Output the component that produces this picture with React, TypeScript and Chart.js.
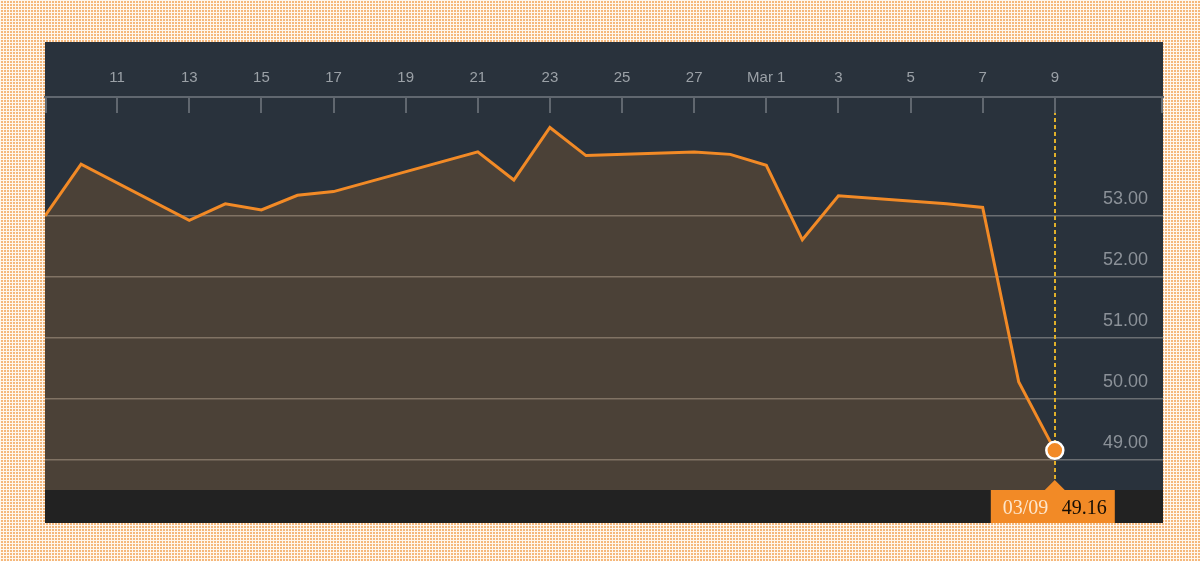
import React, { useEffect, useRef } from "react";
import { Chart, registerables } from "chart.js";

Chart.register(...registerables);

// ---- Data ----
const dates = [
  "2017-02-09", "2017-02-10", "2017-02-13", "2017-02-14", "2017-02-15",
  "2017-02-16", "2017-02-17", "2017-02-21", "2017-02-22", "2017-02-23",
  "2017-02-24", "2017-02-27", "2017-02-28", "2017-03-01", "2017-03-02",
  "2017-03-03", "2017-03-06", "2017-03-07", "2017-03-08", "2017-03-09",
];
const prices = [
  53.0, 53.85, 52.93, 53.2, 53.1,
  53.34, 53.4, 54.05, 53.59, 54.45,
  53.99, 54.05, 54.01, 53.83, 52.61,
  53.33, 53.2, 53.14, 50.28, 49.16,
];
const tickDates = [
  "2017-02-11", "2017-02-13", "2017-02-15", "2017-02-17", "2017-02-19",
  "2017-02-21", "2017-02-23", "2017-02-25", "2017-02-27", "2017-03-01",
  "2017-03-03", "2017-03-05", "2017-03-07", "2017-03-09",
];
const tickLabels = ["11", "13", "15", "17", "19", "21", "23", "25", "27", "Mar 1", "3", "5", "7", "9"];
const yTickValues = [49, 50, 51, 52, 53];
const highlightLabel = "03/09";

const START = Date.UTC(2017, 1, 9);
const dayOf = (s: string) => {
  const [y, m, d] = s.split("-").map(Number);
  return Math.round((Date.UTC(y, m - 1, d) - START) / 86400000);
};

const ORANGE = "#f28a26";

export default function App() {
  const ref = useRef<HTMLCanvasElement>(null);

  useEffect(() => {
    const canvas = ref.current!;
    const points = dates.map((d, i) => ({ x: dayOf(d), y: prices[i] }));
    const tickDays = tickDates.map(dayOf);
    const lastX = points[points.length - 1].x;
    const lastY = points[points.length - 1].y;

    const panelPlugin = {
      id: "panel",
      beforeDraw(chart: any) {
        const { ctx, chartArea } = chart;
        ctx.save();
        ctx.fillStyle = "#29323c";
        ctx.fillRect(45, 42, 1163 - 45, chartArea.bottom - 42);
        ctx.fillStyle = "#222222";
        ctx.fillRect(45, chartArea.bottom, 1163 - 45, 523 - chartArea.bottom);
        ctx.restore();
      },
      beforeDatasetsDraw(chart: any) {
        const { ctx, chartArea, scales } = chart;
        const x = Math.round(scales.x.getPixelForValue(lastX));
        ctx.save();
        ctx.strokeStyle = "#e0b02a";
        ctx.lineWidth = 2;
        ctx.setLineDash([4, 3]);
        ctx.beginPath();
        ctx.moveTo(x, chartArea.top);
        ctx.lineTo(x, chartArea.bottom);
        ctx.stroke();
        ctx.restore();
      },
      afterDraw(chart: any) {
        const { ctx, chartArea, scales } = chart;
        // tick marks below top axis line
        ctx.save();
        ctx.strokeStyle = "#60676f";
        ctx.lineWidth = 2;
        const xs = [chartArea.left + 1, ...tickDays.map((d) => scales.x.getPixelForValue(d)), chartArea.right - 1];
        xs.forEach((px) => {
          ctx.beginPath();
          ctx.moveTo(Math.round(px), chartArea.top);
          ctx.lineTo(Math.round(px), chartArea.top + 16);
          ctx.stroke();
        });
        // highlight label box
        const cx = scales.x.getPixelForValue(lastX);
        const top = chartArea.bottom;
        const left = cx - 64;
        const w = 124;
        ctx.fillStyle = ORANGE;
        ctx.beginPath();
        ctx.moveTo(left, top);
        ctx.lineTo(cx - 10, top);
        ctx.lineTo(cx, top - 10);
        ctx.lineTo(cx + 10, top);
        ctx.lineTo(left + w, top);
        ctx.lineTo(left + w, 523);
        ctx.lineTo(left, 523);
        ctx.closePath();
        ctx.fill();
        ctx.font = "20px 'Liberation Serif', serif";
        ctx.textBaseline = "middle";
        ctx.textAlign = "left";
        ctx.fillStyle = "#fde6cc";
        ctx.fillText(highlightLabel, left + 12, top + 19);
        ctx.fillStyle = "#140d05";
        ctx.fillText(lastY.toFixed(2), left + 71, top + 19);
        ctx.restore();
      },
    };

    const chart = new Chart(canvas, {
      type: "line",
      data: {
        datasets: [
          {
            data: points,
            borderColor: ORANGE,
            borderWidth: 3,
            backgroundColor: "rgba(242,140,35,0.17)",
            fill: "start",
            tension: 0,
            pointRadius: points.map((_, i) => (i === points.length - 1 ? 8.5 : 0)),
            pointBackgroundColor: ORANGE,
            pointBorderColor: "#ffffff",
            pointBorderWidth: 2.5,
            pointHoverRadius: 0,
          },
        ],
      },
      options: {
        animation: false,
        responsive: false,
        devicePixelRatio: 1,
        layout: { padding: { left: 45, right: 37, top: 59, bottom: 71 } },
        plugins: { legend: { display: false }, tooltip: { enabled: false } },
        scales: {
          x: {
            type: "linear",
            position: "top",
            min: 0,
            max: 31,
            afterBuildTicks: (axis: any) => {
              axis.ticks = tickDays.map((v) => ({ value: v }));
            },
            grid: { display: false, drawTicks: false },
            border: { display: true, color: "#60676f", width: 2 },
            ticks: {
              padding: 10,
              color: "#9ba1a7",
              font: { family: "'Liberation Sans', Arial, sans-serif", size: 15 },
              maxRotation: 0,
              autoSkip: false,
              callback: (v: any) => {
                const i = tickDays.indexOf(Number(v));
                return i >= 0 ? tickLabels[i] : "";
              },
            },
          },
          y: {
            type: "linear",
            position: "right",
            min: 48.51,
            max: 54.95,
            afterBuildTicks: (axis: any) => {
              axis.ticks = yTickValues.map((v) => ({ value: v }));
            },
            afterFit: (axis: any) => {
              axis.width = 0;
            },
            grid: { color: "rgba(150,150,150,0.6)", lineWidth: 1.5, drawTicks: false },
            border: { display: false },
            ticks: {
              mirror: true,
              padding: -15,
              labelOffset: -17,
              color: "#8b9198",
              font: { family: "'Liberation Sans', Arial, sans-serif", size: 18 },
              callback: (v: any) => Number(v).toFixed(2),
            },
          },
        },
      },
      plugins: [panelPlugin],
    } as any);
    return () => chart.destroy();
  }, []);

  return (
    <div
      style={{
        position: "absolute",
        left: 0,
        top: 0,
        width: 1200,
        height: 561,
        backgroundColor: "#f5b87c",
        backgroundImage:
          "linear-gradient(#fff7ee 1px, transparent 1px), linear-gradient(90deg, #fff7ee 1px, transparent 1px)",
        backgroundSize: "3px 3px",
      }}
    >
      <canvas ref={ref} width={1200} height={561} style={{ display: "block" }} />
    </div>
  );
}
